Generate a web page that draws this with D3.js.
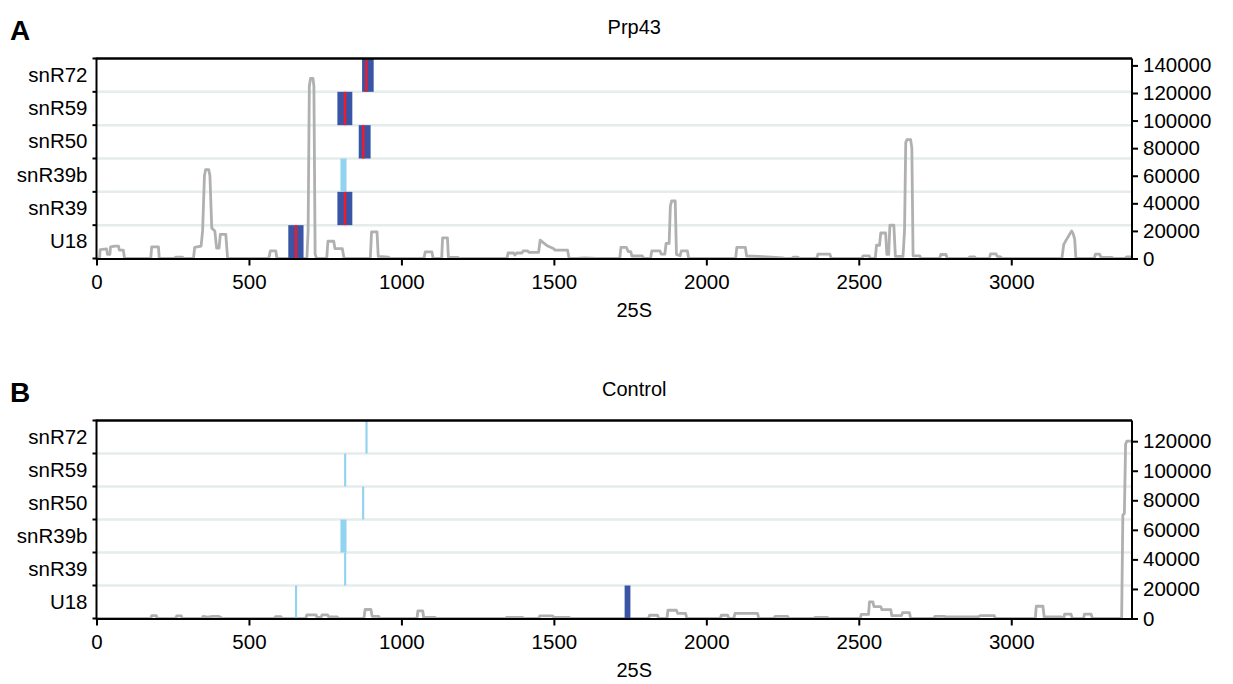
<!DOCTYPE html>
<html>
<head>
<meta charset="utf-8">
<script src="https://cdn.jsdelivr.net/npm/d3@7"></script>
<style>
    body { margin: 0; background: #fff; }
    text { font-family: "Liberation Sans", Arial, sans-serif; fill: #000; }
    .axis path, .axis line { stroke: #000; stroke-width: 2px; }
    .axis text { font-size: 20.5px; }
</style>
</head>
<body>
<div id="chart"></div>
<script>

// snoRNA rows, bottom to top
let rows = ["U18", "snR39", "snR39b", "snR50", "snR59", "snR72"];
let xTicks = [0, 500, 1000, 1500, 2000, 2500, 3000];
let rrnaLength = 3396;

let prp43Ticks = [0, 20000, 40000, 60000, 80000, 100000, 120000, 140000];
let controlTicks = [0, 20000, 40000, 60000, 80000, 100000, 120000];

// read coverage along 25S, [position, reads]
let prp43Trace = [
    [0,0],[10,0],[12,6500],[33,7000],[36,3000],[44,3000],[46,8500],[60,9000],[72,9000],[75,6000],[88,6000],[92,0],
    [178,0],[181,8400],[203,8400],[206,0],[255,0],[260,1000],[282,1000],[286,0],
    [318,0],[322,8000],[343,9000],[348,20000],[354,60000],[358,64500],[368,64500],[372,60000],[378,22000],[388,20000],
    [394,7500],[402,7500],[406,17500],[424,17500],[430,0],[565,0],[570,5500],[588,5500],[592,0],
    [690,0],[694,20000],[698,125000],[702,130500],[710,130500],[713,125000],[717,3000],[722,0],
    [755,0],[759,12500],[778,12500],[782,7200],[806,7200],[812,0],[898,0],[902,19300],[920,19300],[924,1500],[958,1000],[962,0],
    [1074,0],[1078,4800],[1100,4800],[1104,0],[1132,0],[1135,15000],[1151,15000],[1154,1000],[1185,800],[1190,0],
    [1346,0],[1350,4000],[1368,4000],[1372,2500],[1378,4000],[1395,4000],[1399,5500],[1414,5500],[1418,4500],[1450,4500],
    [1455,13300],[1465,11500],[1480,9000],[1500,7000],[1504,6000],[1545,6000],[1550,0],[1575,0],[1600,500],[1640,0],
    [1716,0],[1720,8000],[1738,8000],[1744,5000],[1752,5000],[1756,1800],[1790,1800],[1795,0],
    [1817,0],[1821,5500],[1848,5500],[1852,3200],[1864,3200],[1868,10900],[1878,10900],[1882,38000],[1886,41700],[1898,41700],
    [1902,3000],[1914,2000],[1918,5500],[1938,5500],[1942,0],
    [2096,0],[2100,8000],[2128,8000],[2132,1800],[2200,1200],[2250,500],[2260,0],[2280,0],[2285,1000],[2300,1000],[2305,0],
    [2362,0],[2366,3100],[2405,3100],[2410,0],[2510,0],[2514,1900],[2534,1900],[2538,0],
    [2554,0],[2558,9600],[2568,9600],[2572,18500],[2588,18500],[2592,3000],[2598,3000],[2602,24100],[2615,24100],[2620,1500],
    [2645,1500],[2650,20000],[2654,84000],[2658,86200],[2670,86200],[2674,80000],[2678,2000],[2700,1900],[2704,0],
    [2765,0],[2769,2900],[2786,2900],[2790,0],[2860,0],[2864,1200],[2880,1200],[2884,0],
    [2928,0],[2932,3300],[2950,3300],[2954,1500],[2965,1200],[2970,0],
    [3166,0],[3172,10000],[3180,13300],[3198,20000],[3203,18000],[3208,14000],[3212,0],
    [3272,0],[3276,3100],[3290,3100],[3294,1000],[3330,800],[3335,0],[3374,0],[3378,1200],[3396,1200]
];

let controlTrace = [
    [0,0],[178,0],[181,2000],[196,2000],[199,0],[260,0],[263,1800],[278,1800],[281,0],
    [345,0],[350,1500],[365,1000],[380,1500],[400,1500],[414,0],[583,0],[587,1200],[605,1200],[608,0],
    [686,0],[690,2500],[720,2500],[723,800],[736,800],[740,2500],[758,2500],[762,1000],[790,1000],[794,0],
    [877,0],[881,6100],[900,6100],[904,1500],[925,1500],[929,0],[1051,0],[1054,5100],[1070,5100],[1073,800],[1110,800],[1114,0],
    [1340,0],[1345,700],[1398,700],[1402,0],[1450,0],[1454,1800],[1496,1800],[1500,800],[1550,800],[1554,0],
    [1810,0],[1814,2200],[1840,2200],[1844,0],[1871,0],[1874,5600],[1902,5600],[1906,3500],[1932,3500],[1936,0],
    [2046,0],[2049,2200],[2070,2200],[2074,0],[2090,0],[2094,3500],[2168,3500],[2172,0],[2222,0],[2226,1500],[2266,1500],[2270,0],
    [2352,0],[2356,700],[2398,700],[2402,0],[2505,0],[2508,2800],[2532,2800],[2535,11200],[2546,11200],[2550,8000],[2572,8000],
    [2576,6000],[2605,6000],[2608,2000],[2640,2000],[2644,4000],[2666,4000],[2670,0],
    [2746,0],[2750,1500],[2780,1500],[2790,1000],[2890,1000],[2900,2000],[2944,2000],[2948,0],
    [3079,0],[3082,8300],[3104,8300],[3108,1000],[3164,1000],[3168,0],[3172,0],[3175,3000],[3196,3000],[3200,0],
    [3237,0],[3240,3000],[3262,3000],[3266,0],[3362,0],[3366,70000],[3371,71000],[3375,118000],[3379,120000],[3396,120000]
];

// snoRNA base-pairing sites; sig = significant enrichment, peak = crosslink centre
let prp43Sites = [
    {row: "U18",    start: 629, end: 679, sig: true,  peak: 654},
    {row: "snR39",  start: 790, end: 839, sig: true,  peak: 815},
    {row: "snR39b", start: 800, end: 820, sig: false, peak: null},
    {row: "snR50",  start: 860, end: 899, sig: true,  peak: 875},
    {row: "snR59",  start: 790, end: 839, sig: true,  peak: 815},
    {row: "snR72",  start: 871, end: 909, sig: true,  peak: 885}
];

let controlSites = [
    {row: "U18",    start: 651, end: 658, sig: false, peak: null},
    {row: "U18",    start: 1732, end: 1751, sig: true, peak: null},
    {row: "snR39",  start: 812, end: 819, sig: false, peak: null},
    {row: "snR39b", start: 800, end: 820, sig: false, peak: null},
    {row: "snR50",  start: 871, end: 878, sig: false, peak: null},
    {row: "snR59",  start: 812, end: 819, sig: false, peak: null},
    {row: "snR72",  start: 882, end: 889, sig: false, peak: null}
];


class ReadPanel {

    constructor(svg, opts) {
        this.svg = svg;
        this.opts = opts;
        this.initVis();
    }

    initVis() {
        let vis = this;
        let o = vis.opts;

        vis.g = vis.svg.append("g")
            .attr("transform", `translate(${o.left}, ${o.top})`);

        vis.width = o.width;
        vis.height = o.height;

        // scales
        vis.x = d3.scaleLinear().domain([0, rrnaLength]).range([0, vis.width]);
        vis.row = d3.scaleBand().domain(rows).range([vis.height, 0]);
        vis.y = d3.scaleLinear().domain([0, o.yMax]).range([vis.height, 0]);

        vis.updateVis();
    }

    updateVis() {
        let vis = this;
        let o = vis.opts;

        // row separators
        vis.g.selectAll(".sep")
            .data(rows.slice(1))
            .enter().append("line")
            .attr("x1", 0).attr("x2", vis.width)
            .attr("y1", d => vis.row(d) + vis.row.bandwidth())
            .attr("y2", d => vis.row(d) + vis.row.bandwidth())
            .attr("stroke", "#e4ecec")
            .attr("stroke-width", 2.5);

        // coverage line
        vis.g.append("path")
            .datum(o.trace)
            .attr("fill", "none")
            .attr("stroke", "#b0b0b0")
            .attr("stroke-width", 2.8)
            .attr("stroke-linejoin", "round")
            .attr("d", d3.line()
                .x(d => vis.x(d[0]))
                .y(d => vis.y(d[1])));

        // sites
        vis.g.selectAll(".site")
            .data(o.sites)
            .enter().append("rect")
            .attr("x", d => vis.x(d.start))
            .attr("width", d => vis.x(d.end) - vis.x(d.start))
            .attr("y", d => vis.row(d.row))
            .attr("height", vis.row.bandwidth())
            .attr("fill", d => d.sig ? "#3a55a6" : "#92d3f0");

        vis.g.selectAll(".peak")
            .data(o.sites.filter(d => d.peak !== null))
            .enter().append("line")
            .attr("x1", d => vis.x(d.peak)).attr("x2", d => vis.x(d.peak))
            .attr("y1", d => vis.row(d.row))
            .attr("y2", d => vis.row(d.row) + vis.row.bandwidth())
            .attr("stroke", "#ec1c2a")
            .attr("stroke-width", 2.5);

        // top frame line
        vis.g.append("line")
            .attr("x1", 0).attr("x2", vis.width)
            .attr("y1", 0).attr("y2", 0)
            .attr("stroke", "#000").attr("stroke-width", 2.5);

        // axes
        vis.g.append("g")
            .attr("class", "axis")
            .attr("transform", `translate(0, ${vis.height})`)
            .call(d3.axisBottom(vis.x).tickValues(xTicks).tickFormat(d3.format("d"))
                .tickSize(7).tickSizeOuter(0).tickPadding(9));

        let leftAxis = vis.g.append("g").attr("class", "axis");
        leftAxis.call(d3.axisLeft(vis.row).tickSize(0).tickPadding(9));
        leftAxis.select(".domain").remove();
        leftAxis.append("line")
            .attr("x1", 0).attr("x2", 0).attr("y1", -1).attr("y2", vis.height + 1)
            .attr("stroke", "#000").attr("stroke-width", 2.5);
        leftAxis.selectAll(".rowtick")
            .data(d3.range(rows.length + 1))
            .enter().append("line")
            .attr("x1", -4).attr("x2", 0)
            .attr("y1", d => d * vis.row.step())
            .attr("y2", d => d * vis.row.step())
            .attr("stroke", "#000").attr("stroke-width", 2.5);

        vis.g.append("g")
            .attr("class", "axis")
            .attr("transform", `translate(${vis.width}, 0)`)
            .call(d3.axisRight(vis.y).tickValues(o.yTicks).tickFormat(d3.format("d")).tickSize(6).tickSizeOuter(0).tickPadding(5))
            .select(".domain").attr("d", `M0,0V${vis.height}`);

        // titles
        vis.g.append("text")
            .attr("x", vis.width / 2 + 20)
            .attr("y", -25)
            .attr("text-anchor", "middle")
            .style("font-size", "20px")
            .text(o.title);

        vis.g.append("text")
            .attr("x", vis.width / 2 + 20)
            .attr("y", vis.height + 58)
            .attr("text-anchor", "middle")
            .style("font-size", "20px")
            .text("25S");

        vis.svg.append("text")
            .attr("x", 10)
            .attr("y", o.top - 19)
            .style("font-size", "28px")
            .style("font-weight", "bold")
            .text(o.letter);
    }
}

let svg = d3.select("#chart").append("svg")
    .attr("width", 1233)
    .attr("height", 684);

new ReadPanel(svg, {
    letter: "A", title: "Prp43", left: 96.5, top: 58.5, width: 1035.5, height: 200,
    yMax: 145000, yTicks: prp43Ticks, trace: prp43Trace, sites: prp43Sites
});

new ReadPanel(svg, {
    letter: "B", title: "Control", left: 96.5, top: 420.5, width: 1035.5, height: 198,
    yMax: 134000, yTicks: controlTicks, trace: controlTrace, sites: controlSites
});

</script>
</body>
</html>
